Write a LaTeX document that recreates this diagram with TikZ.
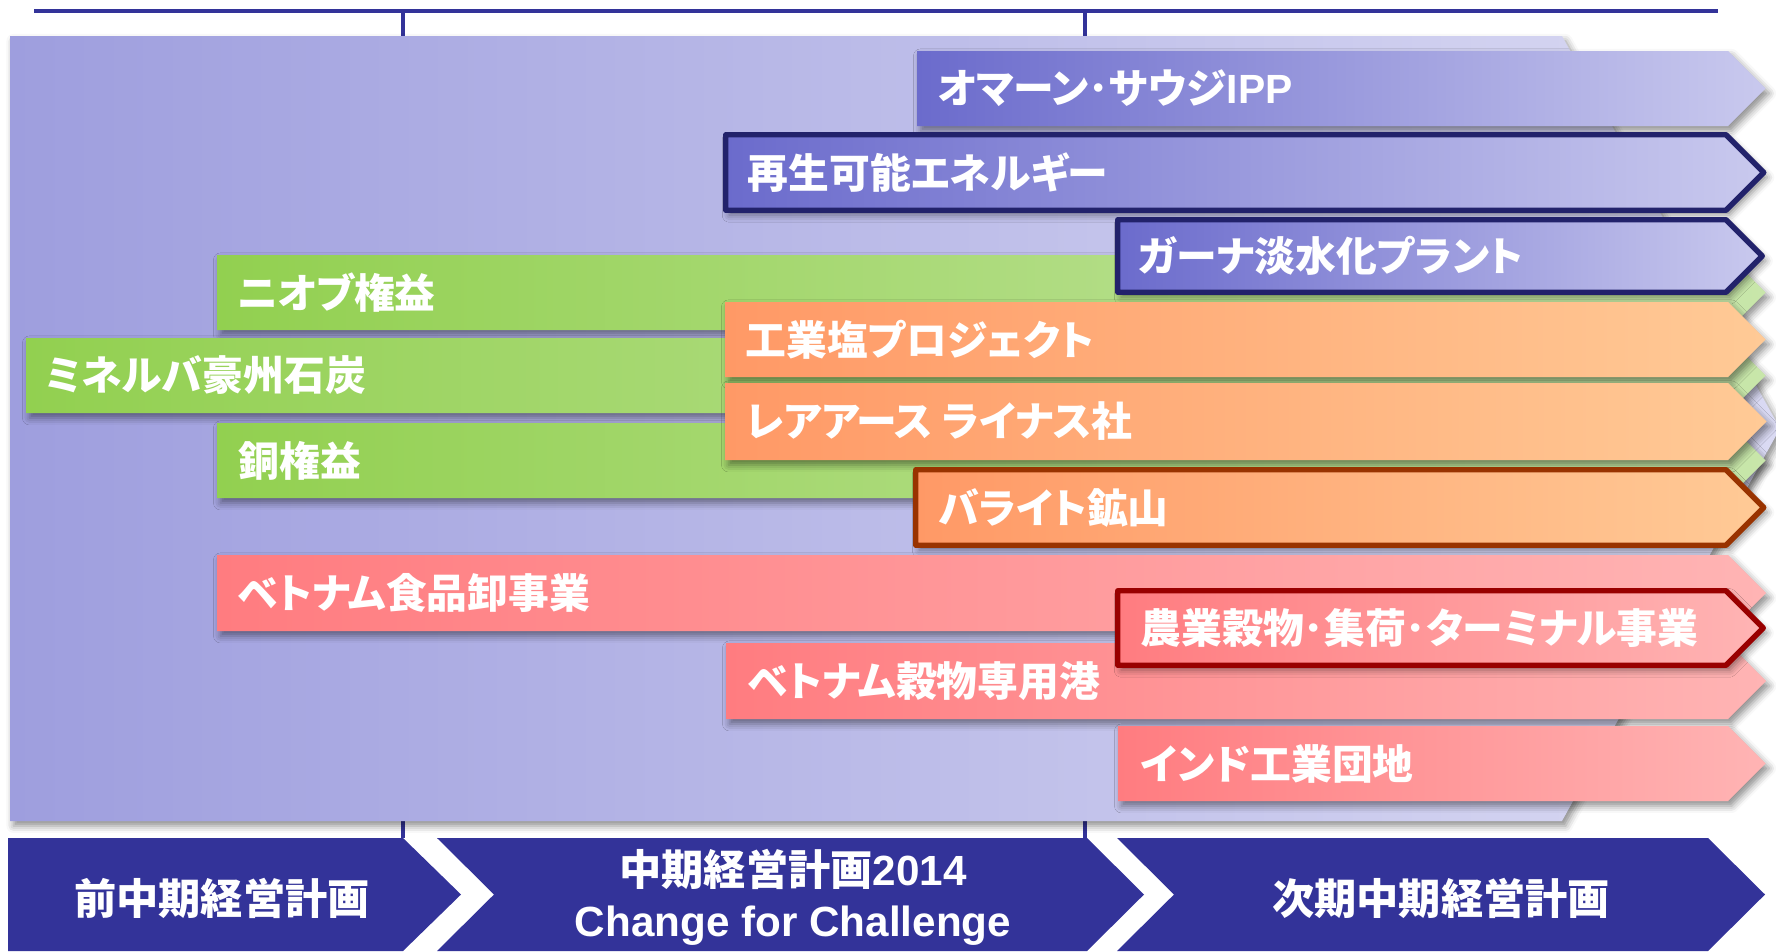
\documentclass[tikz,border=0pt]{standalone}
\usepackage{fontspec}
\setmainfont{Liberation Sans}
\newfontfamily\jp{Noto Sans CJK JP}[RawFeature=+palt]
\newfontfamily\ls{Liberation Sans}
\usetikzlibrary{shadows.blur}
\definecolor{navy}{HTML}{333399}
\definecolor{bgL}{HTML}{9E9EDE}
\definecolor{bgR}{HTML}{DADAF3}
\definecolor{puL}{HTML}{6B6BCC}
\definecolor{puR}{HTML}{C9C9EE}
\definecolor{puB}{HTML}{22226B}
\definecolor{grL}{HTML}{92D050}
\definecolor{grR}{HTML}{C8E6AA}
\definecolor{orL}{HTML}{FF9966}
\definecolor{orR}{HTML}{FFCA96}
\definecolor{orB}{HTML}{993300}
\definecolor{pkL}{HTML}{FF7C80}
\definecolor{pkR}{HTML}{FFB4B4}
\definecolor{pkB}{HTML}{990000}
\tikzset{
  lbl/.style={font=\jp\bfseries\fontsize{11.6pt}{13pt}\selectfont, text=white, inner sep=0pt, anchor=west},
  plan/.style={font=\bfseries\fontsize{12pt}{14.5pt}\selectfont, text=white, inner sep=0pt, align=center},
  shd/.style={blur shadow={shadow xshift=1pt, shadow yshift=-1.4pt, shadow blur radius=2pt, shadow opacity=45}},
  purplebar/.style={shd, left color=puL, right color=puR},
  purplebox/.style={purplebar, draw=puB, line width=1.55pt, line join=round},
  greenbar/.style={shd, left color=grL, right color=grR},
  orangebar/.style={shd, left color=orL, right color=orR},
  orangebox/.style={orangebar, draw=orB, line width=1.55pt, line join=round},
  pinkbar/.style={shd, left color=pkL, right color=pkR},
  pinkbox/.style={pinkbar, draw=pkB, line width=1.55pt, line join=round},
  chev/.style={fill=navy},
  rule/.style={draw=navy, line width=1pt},
}
\newcommand\mkarrow[5]{\path[#1] (#2,#3) -- (#5,#3) -- ({#5+(#4-#3)/2},{(#3+#4)/2}) -- (#5,#4) -- (#2,#4) -- cycle;}
\begin{document}
\begin{tikzpicture}[x=0.01cm,y=-0.01cm]
\useasboundingbox (0,0) rectangle (1776,951);
% timeline rule and ticks
\coordinate (l0) at (34,11);
\coordinate (l1) at (1718,11);
\coordinate (ta) at (403,11);
\coordinate (tb) at (403,838);
\coordinate (tc) at (1085,11);
\coordinate (td) at (1085,838);
\draw[rule] (l0) -- (l1);
\draw[rule, line width=0.9pt] (ta) -- (tb);
\draw[rule, line width=0.9pt] (tc) -- (td);
% background arrow
\path[shd, left color=bgL, right color=bgR] (10,36) -- (1562,36) -- (1780,428.5) -- (1562,821) -- (10,821) -- cycle;
% purple
\mkarrow{purplebar}{917}{51}{126}{1728}
\node[lbl] (oman) at (937,88.5) {オマーン･サウジ{\ls\bfseries IPP}};
\mkarrow{purplebox}{725.75}{134.75}{210.25}{1726}
\node[lbl] (renew) at (747,172.5) {再生可能エネルギー};
% green
\mkarrow{greenbar}{217}{255}{330}{1728}
\node[lbl] (niob) at (237,292.5) {ニオブ権益};
\mkarrow{greenbar}{26}{338}{413}{1728}
\node[lbl] (minerva) at (45,375.5) {ミネルバ豪州石炭};
\mkarrow{greenbar}{217}{423}{498}{1728}
\node[lbl] (copper) at (238,460.5) {銅権益};
% ghana
\mkarrow{purplebox}{1117.75}{219.75}{292.25}{1726}
\node[lbl] (ghana) at (1138,256) {ガーナ淡水化プラント};
% orange
\mkarrow{orangebar}{725}{302}{377}{1728}
\node[lbl] (salt) at (745,339.5) {工業塩プロジェクト};
\mkarrow{orangebar}{725}{383}{460}{1728}
\node[lbl] (rare) at (745,421.5) {レアアース ライナス社};
\mkarrow{orangebox}{915.75}{469.75}{545.25}{1726}
\node[lbl] (barite) at (938,507.5) {バライト鉱山};
% pink
\mkarrow{pinkbar}{217}{555}{631}{1728}
\node[lbl] (food) at (237,593) {ベトナム食品卸事業};
\mkarrow{pinkbar}{726}{643}{719}{1728}
\node[lbl] (port) at (747,681) {ベトナム穀物専用港};
\mkarrow{pinkbar}{1118}{726}{801}{1728}
\node[lbl] (india) at (1140,763.5) {インド工業団地};
\mkarrow{pinkbox}{1117.75}{590.75}{665.25}{1726}
\node[lbl] (grain) at (1140,628) {農業穀物･集荷･ターミナル事業};
% bottom chevrons
\path[chev] (8,838) -- (403,838) -- (461,894.5) -- (403,951) -- (8,951) -- cycle;
\path[chev] (437,838) -- (1087,838) -- (1144,894.5) -- (1087,951) -- (437,951) -- (494,894.5) -- cycle;
\path[chev] (1117,838) -- (1708,838) -- (1765,894.5) -- (1708,951) -- (1117,951) -- (1174,894.5) -- cycle;
\node[plan] (prev) at (222,898) {{\jp 前中期経営計画}};
\node[plan] (cur) at (793,897) {{\jp 中期経営計画}2014\\Change for Challenge};
\node[plan] (next) at (1441,898) {{\jp 次期中期経営計画}};
\end{tikzpicture}
\end{document}
